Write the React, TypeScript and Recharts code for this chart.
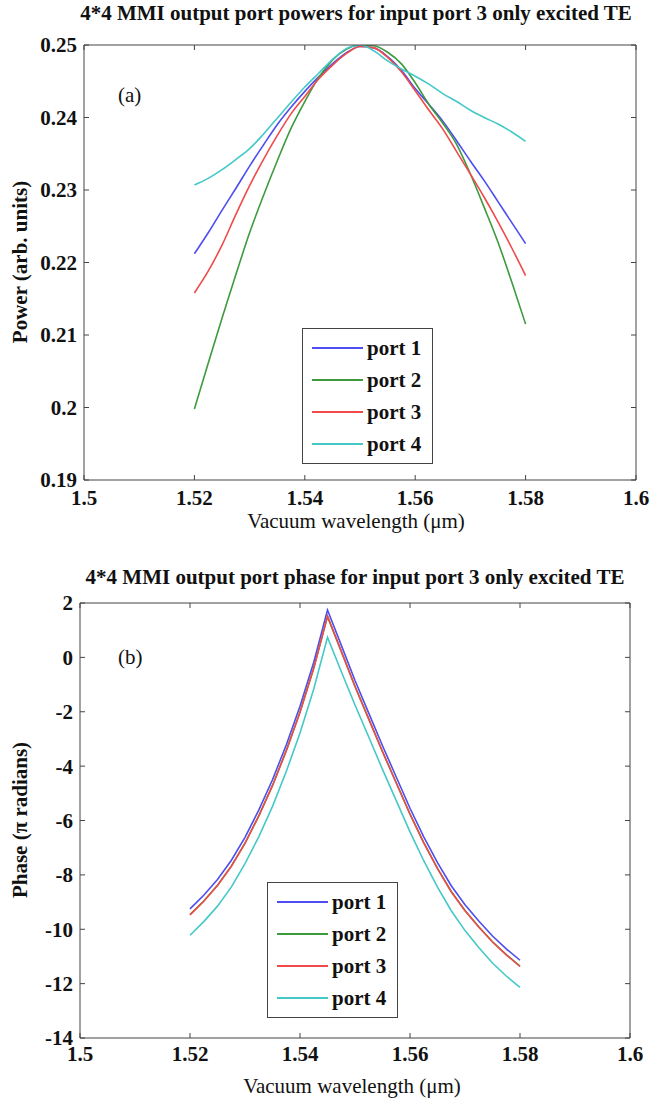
import { Line, LineChart, XAxis, YAxis } from "recharts";

const WAVELENGTHS = [
  1.52, 1.5225, 1.525, 1.5275, 1.53, 1.5325, 1.535, 1.5375, 1.54, 1.5425, 1.545,
  1.5475, 1.55, 1.5525, 1.555, 1.5575, 1.56, 1.5625, 1.565, 1.5675, 1.57, 1.5725,
  1.575, 1.5775, 1.58,
];

const POWER_PORT1 = [
  0.2212, 0.2241, 0.2272, 0.2302, 0.2333, 0.2362, 0.239, 0.2414, 0.2436, 0.2456,
  0.2474, 0.2489, 0.2498, 0.2496, 0.2484, 0.2465, 0.244, 0.2418, 0.2395, 0.2368,
  0.234, 0.2313, 0.2284, 0.2255, 0.2226,
];
const POWER_PORT2 = [
  0.1998, 0.2061, 0.2123, 0.2183, 0.2241, 0.2292, 0.234, 0.2385, 0.2422, 0.2455,
  0.2479, 0.2494, 0.25, 0.2499, 0.249, 0.2474, 0.2448, 0.2418, 0.2392, 0.2363,
  0.2322, 0.2276, 0.2228, 0.2173, 0.2115,
];
const POWER_PORT3 = [
  0.2158, 0.2188, 0.2224, 0.2266, 0.2306, 0.2342, 0.2375, 0.2405, 0.2429, 0.2453,
  0.2472, 0.2488, 0.2498, 0.2496, 0.2483, 0.2463, 0.2437, 0.241, 0.2384, 0.2353,
  0.2322, 0.229, 0.2256, 0.222, 0.2182,
];
const POWER_PORT4 = [
  0.2307, 0.2316, 0.2328, 0.2342, 0.2357, 0.2377, 0.2399, 0.2421, 0.2442, 0.2461,
  0.248, 0.2495, 0.25, 0.2492, 0.2478, 0.2467, 0.2457, 0.2446, 0.2433, 0.2422,
  0.241, 0.24, 0.2391, 0.238, 0.2367,
];

const PHASE_PORT1 = [
  -9.25, -8.75, -8.17, -7.47, -6.62, -5.62, -4.5, -3.22, -1.8, -0.18, 1.74, 0.45,
  -0.85, -2.05, -3.25, -4.4, -5.55, -6.6, -7.55, -8.4, -9.1, -9.7, -10.25, -10.72,
  -11.14,
];
const PHASE_PORT2 = [
  -9.46, -8.96, -8.38, -7.68, -6.83, -5.83, -4.71, -3.43, -2.01, -0.39, 1.5, 0.22,
  -1.06, -2.26, -3.46, -4.61, -5.76, -6.81, -7.76, -8.61, -9.31, -9.91, -10.46,
  -10.93, -11.36,
];
const PHASE_PORT3 = [
  -9.47, -8.97, -8.39, -7.69, -6.84, -5.84, -4.72, -3.44, -2.02, -0.4, 1.52, 0.23,
  -1.07, -2.27, -3.47, -4.62, -5.77, -6.82, -7.77, -8.62, -9.32, -9.92, -10.47,
  -10.94, -11.37,
];
const PHASE_PORT4 = [
  -10.22, -9.72, -9.15, -8.45, -7.59, -6.6, -5.48, -4.2, -2.78, -1.16, 0.74, -0.52,
  -1.75, -2.93, -4.12, -5.27, -6.42, -7.48, -8.45, -9.32, -10.05, -10.67, -11.24,
  -11.72, -12.14,
];

const PORT_NAMES = ["port 1", "port 2", "port 3", "port 4"];
const PORT_COLORS = ["#4d4df0", "#3d9a3d", "#f04a4a", "#45c8c8"];

const X_TICKS = [1.5, 1.52, 1.54, 1.56, 1.58, 1.6];
const POWER_TICKS = [0.19, 0.2, 0.21, 0.22, 0.23, 0.24, 0.25];
const PHASE_TICKS = [-14, -12, -10, -8, -6, -4, -2, 0, 2];

const FONT = "Liberation Serif";
const FRAME = "#444";

const powerRows = WAVELENGTHS.map((wl, i) => ({
  wl,
  p1: POWER_PORT1[i],
  p2: POWER_PORT2[i],
  p3: POWER_PORT3[i],
  p4: POWER_PORT4[i],
}));

const phaseRows = WAVELENGTHS.map((wl, i) => ({
  wl,
  p1: PHASE_PORT1[i],
  p2: PHASE_PORT2[i],
  p3: PHASE_PORT3[i],
  p4: PHASE_PORT4[i],
}));

const tickStyle = { fontSize: 21, fontWeight: "bold", fill: "#111", fontFamily: FONT };
const noLabel = () => <g />;

interface PortChartProps {
  data: Array<Record<string, number>>;
  yDomain: [number, number];
  yTicks: number[];
  margin: { top: number; right: number; bottom: number; left: number };
  curve: "monotone" | "linear";
  xTickMargin: number;
}

function PortChart({ data, yDomain, yTicks, margin, curve, xTickMargin }: PortChartProps) {
  return (
    <LineChart width={651} height={540} data={data} margin={margin}>
      <XAxis
        xAxisId="main"
        dataKey="wl"
        type="number"
        domain={[1.5, 1.6]}
        ticks={X_TICKS}
        interval={0}
        allowDataOverflow
        height={40}
        tickSize={-5}
        tickMargin={xTickMargin}
        stroke={FRAME}
        tick={tickStyle}
      />
      <XAxis
        xAxisId="top"
        orientation="top"
        dataKey="wl"
        type="number"
        domain={[1.5, 1.6]}
        ticks={X_TICKS}
        interval={0}
        allowDataOverflow
        height={1}
        tickSize={-5}
        stroke={FRAME}
        tick={noLabel}
      />
      <YAxis
        yAxisId="main"
        type="number"
        domain={yDomain}
        ticks={yTicks}
        interval={0}
        allowDataOverflow
        width={70}
        tickSize={-5}
        tickMargin={12}
        stroke={FRAME}
        tick={tickStyle}
      />
      <YAxis
        yAxisId="right"
        orientation="right"
        type="number"
        domain={yDomain}
        ticks={yTicks}
        interval={0}
        allowDataOverflow
        width={1}
        tickSize={-5}
        stroke={FRAME}
        tick={noLabel}
      />
      {["p1", "p2", "p3", "p4"].map((key, i) => (
        <Line
          key={key}
          xAxisId="main"
          yAxisId="main"
          type={curve}
          dataKey={key}
          stroke={PORT_COLORS[i]}
          strokeWidth={1.6}
          dot={false}
          isAnimationActive={false}
        />
      ))}
    </LineChart>
  );
}

function PortLegend({ left, top }: { left: number; top: number }) {
  return (
    <div
      style={{
        position: "absolute",
        left,
        top,
        width: 129,
        height: 134,
        border: `1px solid ${FRAME}`,
        background: "#fff",
        boxSizing: "content-box",
      }}
    >
      {PORT_NAMES.map((name, i) => (
        <div
          key={name}
          style={{ height: 32, marginTop: i === 0 ? 3 : 0, display: "flex", alignItems: "center" }}
        >
          <svg width={64} height={10} style={{ display: "block" }}>
            <line x1={9} y1={5} x2={60} y2={5} stroke={PORT_COLORS[i]} strokeWidth={2} />
          </svg>
          <span style={{ fontFamily: FONT, fontWeight: "bold", fontSize: 21, color: "#111" }}>
            {name}
          </span>
        </div>
      ))}
    </div>
  );
}

const textBase = { position: "absolute" as const, fontFamily: FONT, color: "#111", whiteSpace: "nowrap" as const };

export default function App() {
  return (
    <div style={{ position: "absolute", left: 0, top: 0, width: 651, height: 1100, background: "#fff" }}>
      <div style={{ ...textBase, left: 0, top: 1, width: 712, textAlign: "center", fontSize: 21, fontWeight: "bold" }}>
        4*4 MMI output port powers for input port 3 only excited TE
      </div>
      <div style={{ position: "absolute", left: 0, top: 0 }}>
        <PortChart
          data={powerRows}
          yDomain={[0.19, 0.25]}
          yTicks={POWER_TICKS}
          margin={{ top: 44, right: 14, left: 14, bottom: 20 }}
          curve="monotone"
          xTickMargin={15}
        />
      </div>
      <div style={{ ...textBase, left: 118, top: 83, fontSize: 21 }}>(a)</div>
      <PortLegend left={302} top={328} />
      <div style={{ ...textBase, left: 0, top: 509, width: 712, textAlign: "center", fontSize: 21 }}>
        Vacuum wavelength (μm)
      </div>
      <div
        style={{
          ...textBase,
          left: 20,
          top: 262,
          fontSize: 21,
          fontWeight: "bold",
          transform: "translate(-50%, -50%) rotate(-90deg)",
        }}
      >
        Power (arb. units)
      </div>

      <div style={{ ...textBase, left: 0, top: 565, width: 710, textAlign: "center", fontSize: 21, fontWeight: "bold" }}>
        4*4 MMI output port phase for input port 3 only excited TE
      </div>
      <div style={{ position: "absolute", left: 0, top: 560 }}>
        <PortChart
          data={phaseRows}
          yDomain={[-14, 2]}
          yTicks={PHASE_TICKS}
          margin={{ top: 42, right: 20, left: 10, bottom: 22 }}
          curve="linear"
          xTickMargin={13}
        />
      </div>
      <div style={{ ...textBase, left: 118, top: 645, fontSize: 21 }}>(b)</div>
      <PortLegend left={267} top={882} />
      <div style={{ ...textBase, left: 0, top: 1074, width: 704, textAlign: "center", fontSize: 21 }}>
        Vacuum wavelength (μm)
      </div>
      <div
        style={{
          ...textBase,
          left: 20,
          top: 820,
          fontSize: 21,
          fontWeight: "bold",
          transform: "translate(-50%, -50%) rotate(-90deg)",
        }}
      >
        Phase (π radians)
      </div>
    </div>
  );
}
